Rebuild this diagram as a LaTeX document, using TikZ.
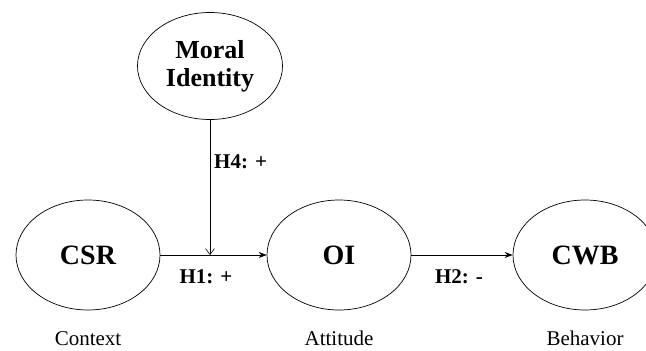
\documentclass[tikz,border=0pt]{standalone}
\usepackage{fontspec}
\setmainfont{Liberation Serif}
\usetikzlibrary{shapes.geometric,arrows.meta}
\tikzset{
  var/.style={draw, ellipse, line width=0.7pt, minimum width=144pt, minimum height=110pt, inner sep=0pt, align=center, font=\bfseries\fontsize{28}{30}\selectfont},
  mivar/.style={draw, ellipse, line width=0.7pt, minimum width=145pt, minimum height=107pt, inner sep=0pt, align=center, font=\bfseries\fontsize{26}{28}\selectfont},
  hlab/.style={font=\bfseries\fontsize{21}{22}\selectfont, inner sep=0pt},
  cat/.style={font=\fontsize{21}{22}\selectfont, inner sep=0pt, anchor=base},
  conn/.style={line width=0.8pt, -{Stealth[length=8pt,width=6pt]}},
  modarrow/.style={line width=0.6pt, -{Straight Barb[length=6pt,width=9pt]}}
}
\begin{document}
\begin{tikzpicture}[x=1pt,y=-1pt]
\useasboundingbox (0,0) rectangle (646,351);
\clip (0,0) rectangle (646,351);
\node[mivar] (mi) at (210,66) {Moral\\Identity};
\node[var] (csr) at (88,255) {CSR};
\node[var] (oi) at (339,255) {OI};
\node[var] (cwb) at (585,255) {CWB};
\coordinate (m) at (210,255);
\draw[conn] (csr.east) -- (oi.west);
\draw[conn] (oi.east) -- (cwb.west);
\draw[modarrow] (mi.south) -- (m);
\node[hlab, anchor=west] (h4) at (214,162) {H4: +};
\node[hlab] (h1) at (206,277) {H1: +};
\node[hlab] (h2) at (459,277) {H2: -};
\node[cat] (ctx) at (88,345) {Context};
\node[cat] (att) at (339,345) {Attitude};
\node[cat] (beh) at (585,345) {Behavior};
\end{tikzpicture}
\end{document}
